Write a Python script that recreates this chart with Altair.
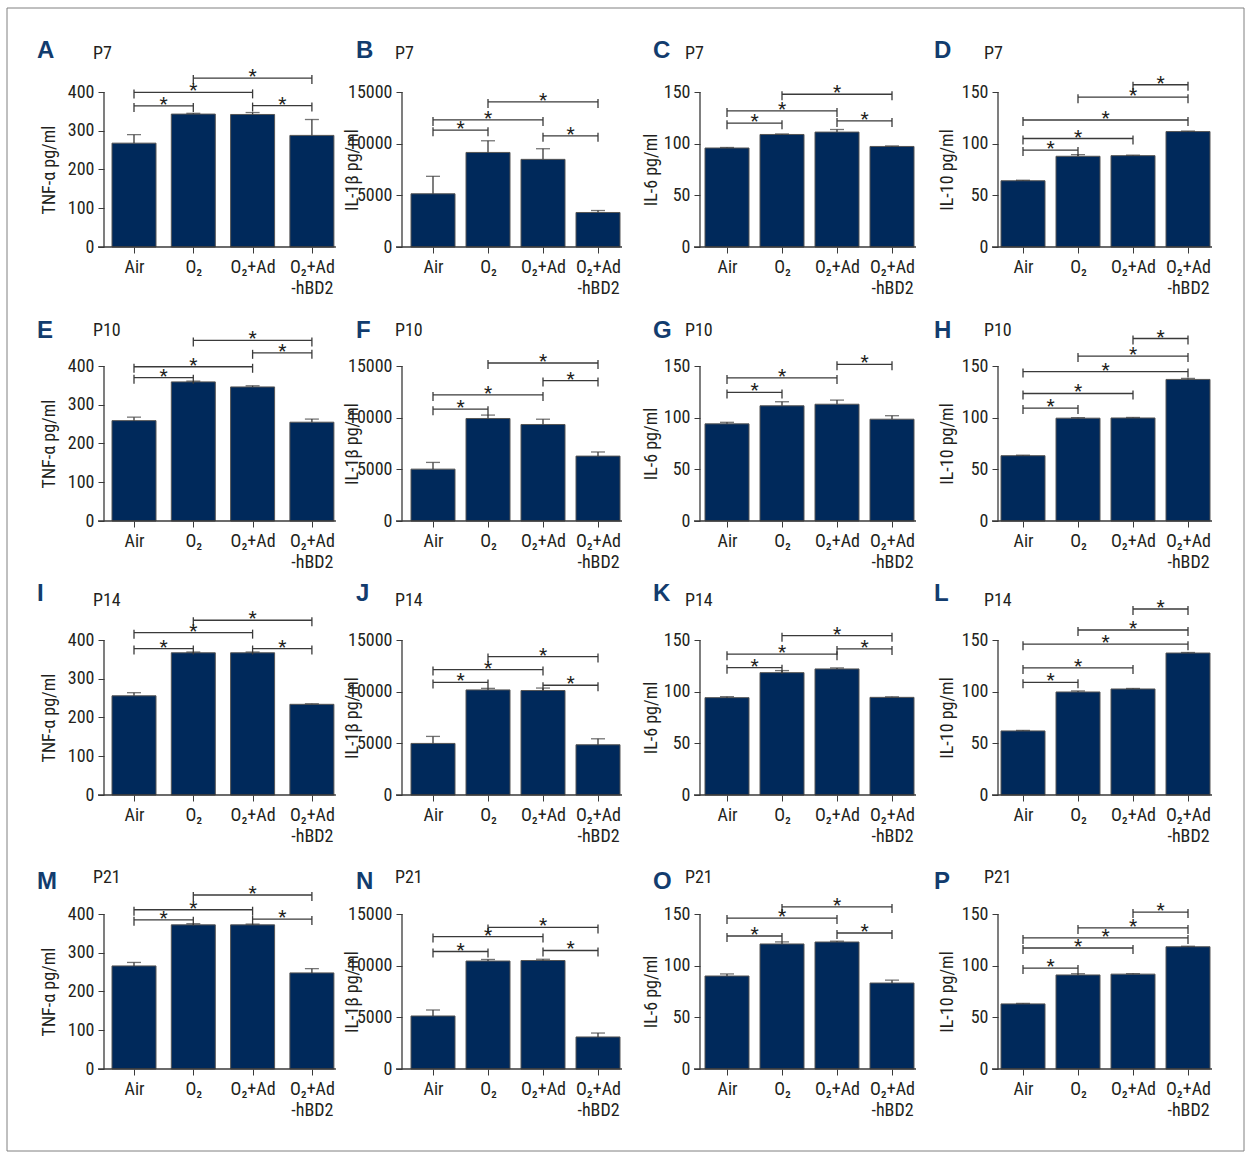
import json

import altair as alt
import pandas as pd

# ---------------------------------------------------------------- data
GROUPS = ["Air", "O₂", "O₂+Ad", "O₂+Ad\n-hBD2"]
PERIODS = ["P7", "P10", "P14", "P21"]
CYTOKINES = ["TNF-α", "IL-1β", "IL-6", "IL-10"]
AXIS_MAX = [400, 15000, 150, 150]
AXIS_STEP = [100, 5000, 50, 50]
PANEL_LETTERS = ["ABCD", "EFGH", "IJKL", "MNOP"]

# rows = P7, P10, P14, P21 ; columns = Air, O2, O2+Ad, O2+Ad-hBD2
TNF_MEAN = [[268, 343, 342, 288], [259, 359, 346, 255], [256, 367, 367, 234], [266, 372, 372, 248]]
TNF_SEM = [[22, 2, 5, 41], [9, 2, 3, 8], [8, 2, 2, 1.5], [9, 3, 2, 11]]

IL1B_MEAN = [[5150, 9150, 8480, 3340], [5020, 9920, 9340, 6280], [4990, 10170, 10110, 4860], [5130, 10450, 10500, 3100]]
IL1B_SEM = [[1690, 1130, 1030, 190], [650, 330, 510, 400], [680, 150, 240, 580], [580, 150, 120, 380]]

IL6_MEAN = [[95.8, 108.9, 111.2, 97.3], [94.0, 111.5, 113.0, 98.5], [94.2, 118.4, 122.0, 94.5], [90.0, 121.0, 122.9, 83.2]]
IL6_SEM = [[0.5, 0.5, 2.5, 0.5], [1.5, 3.9, 4.0, 3.4], [1.0, 2.0, 1.0, 0.5], [2.0, 2.0, 0.8, 2.8]]

IL10_MEAN = [[64.1, 87.8, 88.4, 111.7], [63.2, 99.5, 99.7, 137.0], [62.0, 99.7, 102.6, 137.4], [63.0, 91.0, 91.8, 118.3]]
IL10_SEM = [[0.5, 1.6, 0.5, 0.5], [0.5, 0.5, 0.5, 1.0], [0.5, 1.0, 0.5, 0.5], [0.5, 1.2, 0.5, 0.5]]

# significance brackets: (group from, group to, bracket height in pg/ml)
TNF_SIG = [
    [(0, 1, 364), (0, 2, 399), (1, 3, 436), (2, 3, 365)],
    [(0, 1, 370), (0, 2, 398), (1, 3, 466), (2, 3, 434)],
    [(0, 1, 378), (0, 2, 419), (1, 3, 451), (2, 3, 378)],
    [(0, 1, 385), (0, 2, 411), (1, 3, 449), (2, 3, 387)],
]
IL1B_SIG = [
    [(0, 1, 11310), (0, 2, 12300), (1, 3, 14040), (2, 3, 10760)],
    [(0, 1, 10820), (0, 2, 12200), (1, 3, 15290), (2, 3, 13590)],
    [(0, 1, 10890), (0, 2, 12140), (1, 3, 13400), (2, 3, 10620)],
    [(0, 1, 11370), (0, 2, 12820), (1, 3, 13700), (2, 3, 11470)],
]
IL6_SIG = [
    [(0, 1, 119.8), (0, 2, 131.7), (1, 3, 147.8), (2, 3, 122.0)],
    [(0, 1, 124.4), (0, 2, 138.5), (2, 3, 151.6)],
    [(0, 1, 123.2), (0, 2, 136.3), (1, 3, 154.2), (2, 3, 141.4)],
    [(0, 1, 128.7), (0, 2, 146.1), (1, 3, 156.8), (2, 3, 131.6)],
]
IL10_SIG = [
    [(0, 1, 93.8), (0, 2, 105.0), (0, 3, 122.9), (1, 3, 145.0), (2, 3, 157.0)],
    [(0, 1, 109.3), (0, 2, 123.4), (0, 3, 144.6), (1, 3, 159.6), (2, 3, 176.6)],
    [(0, 1, 109.0), (0, 2, 123.0), (0, 3, 146.0), (1, 3, 159.7), (2, 3, 180.0)],
    [(0, 1, 97.7), (0, 2, 117.1), (0, 3, 126.8), (1, 3, 136.5), (2, 3, 151.9)],
]
SIG_MARK = "*"

MEAN = [TNF_MEAN, IL1B_MEAN, IL6_MEAN, IL10_MEAN]
SEM = [TNF_SEM, IL1B_SEM, IL6_SEM, IL10_SEM]
SIG = [TNF_SIG, IL1B_SIG, IL6_SIG, IL10_SIG]

# ---------------------------------------------------------------- style / layout
FONT = "Roboto Condensed, Liberation Sans Narrow, DejaVu Sans Condensed, Roboto, sans-serif"
BAR_FILL = "#00295b"
LETTER_COLOR = "#123c6e"
INK = "#231f20"
LINE = "#3a3a3a"

W, H = 232, 190          # panel plot area
AXIS_H = 155             # pixel height covered by 0 .. axis maximum
BAR_W = 44
FIRST_CENTER = [30, 31, 27, 25]
STEP = [59.3, 55, 55, 55]
TITLE_X = [-55, -50, -49, -51]
LETTER_X = [-67, -46, -47, -64]
LETTER_Y = [1, 7, -4, 10]
PERIOD_X = [-11, -7, -15, -14]
PERIOD_Y = [2, 5, 1, 4]
TEXT_SIZE = 18

LABEL_EXPR = json.dumps([g.split("\n") for g in GROUPS], ensure_ascii=False) + "[datum.value]"


def panel(r, c):
    ymax = AXIS_MAX[c]
    ys = alt.Scale(domain=[0, ymax * H / AXIS_H], nice=False, zero=True, padding=0)
    d0 = -FIRST_CENTER[c] / STEP[c]
    xs = alt.Scale(domain=[d0, d0 + W / STEP[c]], nice=False, zero=False, padding=0)
    x_end = FIRST_CENTER[c] + 3 * STEP[c] + BAR_W / 2 + 2

    bars = pd.DataFrame({"g": list(range(len(GROUPS))), "mean": MEAN[c][r], "sem": SEM[c][r]})
    sig = pd.DataFrame(SIG[c][r], columns=["i", "j", "level"])
    sig["mark"] = SIG_MARK
    axis_df = pd.DataFrame({"lo": [0], "hi": [ymax]})

    x_axis = alt.Axis(
        values=list(range(len(GROUPS))), labelExpr=LABEL_EXPR, domain=False, grid=False,
        tickSize=6, tickColor=LINE, labelPadding=5, labelFontSize=TEXT_SIZE, labelLineHeight=21,
        labelAngle=0, labelFlush=False, labelOverlap=False, labelBaseline="top", title=None,
    )
    y_axis = alt.Axis(
        values=list(range(0, ymax + 1, AXIS_STEP[c])), format="d", domain=False, grid=False,
        tickSize=6, tickColor=LINE, labelPadding=4, labelFontSize=TEXT_SIZE, labelFlush=False,
        labelOverlap=False, title=f"{CYTOKINES[c]} pg/ml", titleFontSize=TEXT_SIZE,
        titleFontWeight="normal", titleX=TITLE_X[c], titleY=H - AXIS_H / 2,
        titleAlign="center", titleBaseline="middle", titleAngle=270,
    )

    def X(field):
        return alt.X(field, scale=xs, axis=x_axis)

    def Y(field):
        return alt.Y(field, scale=ys, axis=y_axis)

    bar = alt.Chart(bars).mark_bar(width=BAR_W, color=BAR_FILL, stroke="#555555", strokeWidth=1).encode(
        x=X("g:Q"), y=Y("mean:Q")
    )
    err_base = alt.Chart(bars).transform_calculate(hi="datum.mean + datum.sem")
    err = err_base.mark_rule(color=LINE, strokeWidth=1.3).encode(x=X("g:Q"), y=Y("mean:Q"), y2="hi:Q")
    cap = err_base.mark_tick(orient="horizontal", size=14, thickness=1.3, color=LINE).encode(
        x=X("g:Q"), y=Y("hi:Q")
    )

    y_line = alt.Chart(axis_df).mark_rule(color=LINE, strokeWidth=1.3).encode(
        x=alt.value(0), y=Y("lo:Q"), y2="hi:Q"
    )
    x_line = alt.Chart(axis_df).mark_rule(color=LINE, strokeWidth=1.3).encode(
        x=alt.value(-6), x2=alt.value(x_end), y=Y("lo:Q")
    )

    span = alt.Chart(sig).mark_rule(color=LINE, strokeWidth=1.3).encode(
        x=X("i:Q"), x2="j:Q", y=Y("level:Q")
    )
    ends = alt.Chart(sig).transform_fold(["i", "j"], as_=["end", "pos"]).mark_rule(
        color=LINE, strokeWidth=1.3, yOffset=-3, y2Offset=6
    ).encode(x=X("pos:Q"), y=Y("level:Q"), y2="level:Q")
    stars = alt.Chart(sig).transform_calculate(mid="(datum.i + datum.j) / 2").mark_text(
        fontSize=19, baseline="alphabetic", dy=4, color=INK, font=FONT
    ).encode(x=X("mid:Q"), y=Y("level:Q"), text="mark:N")

    letter = alt.Chart(pd.DataFrame({"t": [PANEL_LETTERS[r][c]]})).mark_text(
        align="left", baseline="alphabetic", fontSize=24, fontWeight="bold",
        color=LETTER_COLOR, font="Liberation Sans, Arial, sans-serif",
    ).encode(x=alt.value(LETTER_X[c]), y=alt.value(LETTER_Y[r]), text="t:N")
    period = alt.Chart(pd.DataFrame({"t": [PERIODS[r]]})).mark_text(
        align="left", baseline="alphabetic", fontSize=TEXT_SIZE, color=INK, font=FONT,
    ).encode(x=alt.value(PERIOD_X[c]), y=alt.value(PERIOD_Y[r]), text="t:N")

    layers = [bar, err, cap, y_line, x_line, span, ends, stars, letter, period]
    if r == 0 and c == 0:
        frame = alt.Chart(pd.DataFrame({"t": [0]})).mark_rect(
            fillOpacity=0, stroke="#808080", strokeWidth=1
        ).encode(x=alt.value(-97), x2=alt.value(1140), y=alt.value(-49), y2=alt.value(1094))
        layers.append(frame)
    return alt.layer(*layers).properties(width=W, height=H)


panels = [panel(r, c) for r in range(4) for c in range(4)]

chart = (
    alt.concat(*panels, columns=4, spacing={"row": 84, "column": 66}, bounds="flush")
    .properties(padding={"left": 6, "top": 7, "right": 0, "bottom": 0}, background="white")
    .configure_view(stroke=None)
    .configure_axis(labelFont=FONT, titleFont=FONT, labelColor=INK, titleColor=INK)
    .configure_text(font=FONT)
)

chart.save("out.html", embed_options={"renderer": "svg", "actions": False})
